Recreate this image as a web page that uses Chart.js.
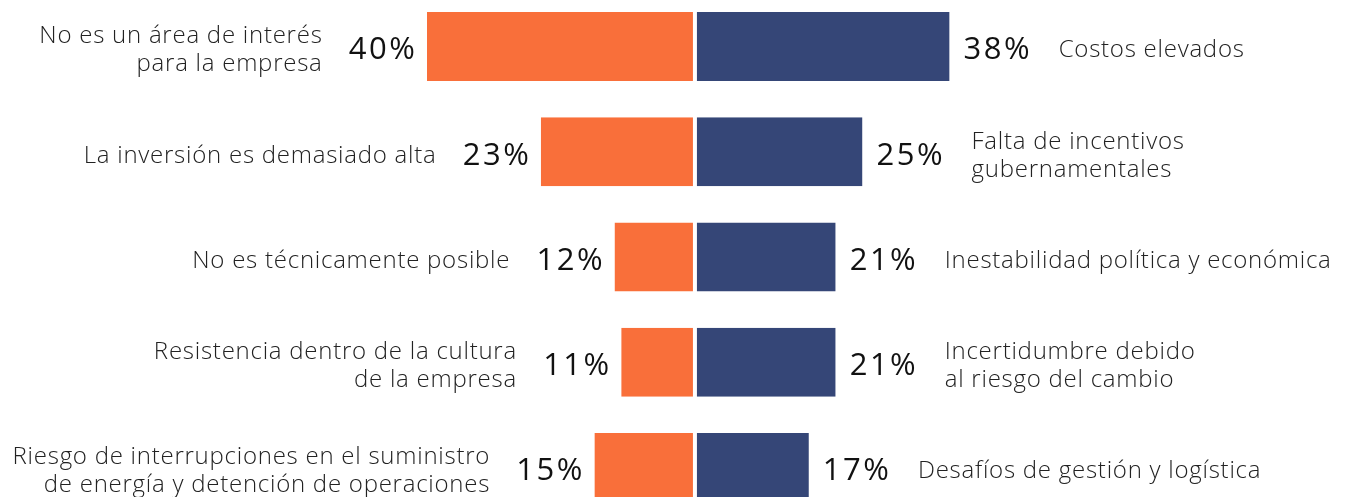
<!DOCTYPE html>
<html>
<head>
<meta charset="utf-8">
<script src="https://cdn.jsdelivr.net/npm/chart.js@4"></script>
<style>
    html, body { margin: 0; padding: 0; background: #fff; overflow: hidden; }
    #wrap { position: absolute; left: 0; top: -6px; width: 1349px; height: 526px; }
</style>
</head>
<body>
<div id="wrap"><canvas id="chart"></canvas></div>
<script>
// datos
var filas = ['1', '2', '3', '4', '5'];
var etiquetasIzq = [
    ['No es un área de interés', 'para la empresa'],
    ['La inversión es demasiado alta'],
    ['No es técnicamente posible'],
    ['Resistencia dentro de la cultura', 'de la empresa'],
    ['Riesgo de interrupciones en el suministro', 'de energía y detención de operaciones']
];
var etiquetasDer = [
    ['Costos elevados'],
    ['Falta de incentivos', 'gubernamentales'],
    ['Inestabilidad política y económica'],
    ['Incertidumbre debido', 'al riesgo del cambio'],
    ['Desafíos de gestión y logística']
];
var valoresIzq = [40, 23, 12, 11, 15];
var valoresDer = [38, 25, 21, 21, 17];

var fuenteLabel = '300 24px "Open Sans"';
var fuentePct = '500 31px "Open Sans"';

function texto(ctx, s, x, y, espacio) {
    ctx.letterSpacing = espacio + 'px';
    var w = ctx.measureText(s).width - espacio;
    if (ctx.textAlign === 'right') {
        ctx.textAlign = 'left';
        ctx.fillText(s, x - w, y);
        ctx.textAlign = 'right';
    } else {
        ctx.fillText(s, x, y);
    }
    return w;
}

var textos = {
    id: 'textos',
    afterDatasetsDraw: function (chart) {
        var ctx = chart.ctx;
        var izq = chart.getDatasetMeta(0).data;
        var der = chart.getDatasetMeta(1).data;
        ctx.save();
        ctx.textBaseline = 'middle';
        for (var i = 0; i < filas.length; i++) {
            // lado izquierdo
            var b = izq[i];
            var y = b.y + 4;
            ctx.font = fuentePct;
            ctx.fillStyle = '#111';
            ctx.textAlign = 'right';
            var xp = b.x - 12;
            var w = texto(ctx, valoresIzq[i] + '%', xp, y, 2.5);
            ctx.font = fuenteLabel;
            ctx.fillStyle = '#222';
            var lineas = etiquetasIzq[i];
            var y0 = y - (lineas.length - 1) * 14;
            for (var l = 0; l < lineas.length; l++) {
                texto(ctx, lineas[l], xp - w - 27, y0 + l * 28, 0.75);
            }
            // lado derecho
            b = der[i];
            ctx.font = fuentePct;
            ctx.fillStyle = '#111';
            ctx.textAlign = 'left';
            xp = b.x + 14;
            w = texto(ctx, valoresDer[i] + '%', xp, y, 2.5);
            ctx.font = fuenteLabel;
            ctx.fillStyle = '#222';
            lineas = etiquetasDer[i];
            y0 = y - (lineas.length - 1) * 14;
            for (var l = 0; l < lineas.length; l++) {
                texto(ctx, lineas[l], xp + w + 29, y0 + l * 28, 0.75);
            }
        }
        ctx.restore();
    }
};

var datos = {
    type: 'bar',
    data: {
        labels: filas,
        datasets: [{
            data: valoresIzq.map(function (v) { return -v; }),
            backgroundColor: '#F96F3A',
            borderColor: '#ffffff',
            borderWidth: { right: 2, left: 0, top: 0, bottom: 0 },
            borderSkipped: false
        }, {
            data: valoresDer,
            backgroundColor: '#354677',
            borderColor: '#ffffff',
            borderWidth: { left: 2, right: 0, top: 0, bottom: 0 },
            borderSkipped: false
        }]
    },
    options: {
        indexAxis: 'y',
        responsive: true,
        maintainAspectRatio: false,
        animation: false,
        layout: { padding: 0 },
        categoryPercentage: 1,
        barPercentage: 0.656,
        plugins: {
            legend: { display: false },
            tooltip: { enabled: false }
        },
        scales: {
            x: { display: false, stacked: true, min: -103.7, max: 97.6 },
            y: { display: false, stacked: true }
        }
    },
    plugins: [textos]
};

var canvas = document.getElementById('chart').getContext('2d');
window.barras = new Chart(canvas, datos);
</script>
</body>
</html>
